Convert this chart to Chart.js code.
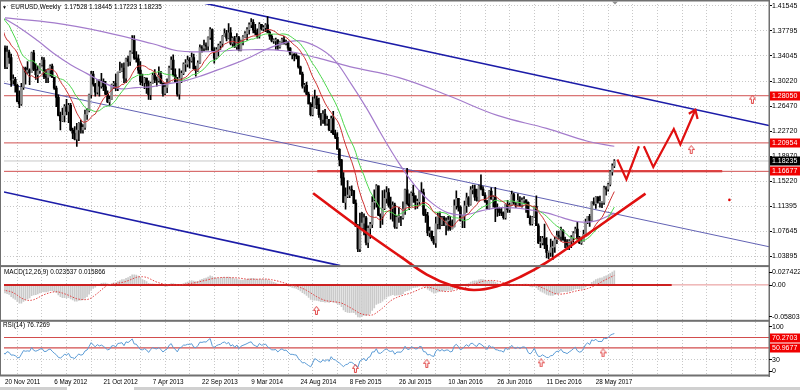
<!DOCTYPE html>
<html>
<head>
<meta charset="utf-8">
<script src="https://cdn.jsdelivr.net/npm/chart.js@4.4.1/dist/chart.umd.min.js"></script>
<style>
  html, body { margin: 0; padding: 0; background: #fff; }
  #wrap { position: relative; width: 800px; height: 390px; overflow: hidden; font-family: "Liberation Sans", Arial, sans-serif; }
  #chart { position: absolute; left: 0; top: 0; }
  .cap { position: absolute; font-size: 6.4px; line-height: 8px; color: #000; white-space: pre; }
</style>
</head>
<body>
<div id="wrap">
  <canvas id="chart" width="800" height="390"></canvas>
  <div class="cap" style="left:2px;top:3px;font-size:5px">&#9660;</div>
  <div class="cap" style="left:11px;top:3px">EURUSD,Weekly  1.17528 1.18445 1.17223 1.18235</div>
  <div class="cap" style="left:4px;top:268px">MACD(12,26,9) 0.023537 0.015866</div>
  <div class="cap" style="left:3px;top:321px">RSI(14) 76.7269</div>
</div>
<script>
// weekly closes before the first visible bar (only feed the indicators)
const preCloses = [1.2910,1.3380,1.3610,1.3610,1.3580,1.3540,1.3700,1.3750,1.3990,1.3900,1.4180,1.4090,1.4230,1.4480,1.4430,1.4580,1.4810,1.4310,1.4120,1.4150,1.4300,1.4640,1.4340,1.4310,1.4180,1.4500,1.4260,1.4150,1.4360,1.4390,1.4280,1.4240,1.4380,1.4490,1.4200,1.3650,1.3790,1.3500,1.3390,1.3370,1.3880,1.3890,1.4140,1.3780,1.3750,1.3520];

// visible weeks, 20 Nov 2011 = week 0
const closes = [
1.3240,1.3460,1.3380,1.3040,1.3050,1.2960,1.2720,1.2680,1.2930,1.3220,
1.3160,1.3190,1.3150,1.3450,1.3200,1.3120,1.3180,1.3270,1.3340,1.3090,
1.3080,1.3190,1.3250,1.3080,1.2920,1.2780,1.2510,1.2430,1.2510,1.2640,
1.2570,1.2660,1.2290,1.2240,1.2150,1.2290,1.2390,1.2290,1.2330,1.2520,
1.2580,1.2820,1.3130,1.2980,1.2860,1.3040,1.2950,1.3020,1.2940,1.2830,
1.2710,1.2750,1.2970,1.2990,1.2920,1.3160,1.3180,1.3220,1.3070,1.3360,
1.3320,1.3460,1.3640,1.3370,1.3360,1.3190,1.3020,1.3000,1.3070,1.2990,
1.2820,1.2990,1.3110,1.3050,1.3030,1.3110,1.2990,1.2840,1.2930,1.3000,
1.3220,1.3340,1.3120,1.3010,1.2830,1.3070,1.3140,1.3280,1.3280,1.3340,
1.3330,1.3380,1.3210,1.3180,1.3300,1.3530,1.3520,1.3560,1.3550,1.3680,
1.3800,1.3490,1.3370,1.3500,1.3560,1.3590,1.3700,1.3740,1.3670,1.3750,
1.3590,1.3670,1.3540,1.3680,1.3490,1.3630,1.3690,1.3740,1.3800,1.3870,
1.3910,1.3790,1.3750,1.3700,1.3880,1.3810,1.3830,1.3870,1.3760,1.3700,
1.3630,1.3630,1.3640,1.3540,1.3610,1.3650,1.3590,1.3600,1.3520,1.3430,
1.3430,1.3410,1.3400,1.3240,1.3130,1.2950,1.2960,1.2830,1.2680,1.2520,
1.2630,1.2760,1.2670,1.2520,1.2450,1.2530,1.2390,1.2450,1.2290,1.2460,
1.2230,1.2180,1.2000,1.1840,1.1570,1.1200,1.1290,1.1310,1.1390,1.1380,
1.1190,1.0840,1.0500,1.0820,1.0890,1.0970,1.0600,1.0810,1.0870,1.1200,
1.1200,1.1450,1.1010,1.0990,1.1110,1.1260,1.1350,1.1160,1.1110,1.1160,
1.0830,1.0980,1.0980,1.0970,1.1100,1.1390,1.1180,1.1150,1.1340,1.1300,
1.1200,1.1210,1.1360,1.1350,1.1020,1.1000,1.0740,1.0770,1.0650,1.0590,
1.0880,1.0990,1.0870,1.0970,1.0860,1.0920,1.0920,1.0800,1.0830,1.1150,
1.1260,1.1130,1.0930,1.1000,1.1150,1.1270,1.1170,1.1390,1.1400,1.1280,
1.1230,1.1450,1.1400,1.1310,1.1220,1.1110,1.1370,1.1250,1.1280,1.1120,
1.1100,1.1050,1.1040,1.0970,1.1170,1.1090,1.1160,1.1320,1.1200,1.1160,
1.1230,1.1160,1.1230,1.1240,1.1200,1.0970,1.0880,1.0980,1.1140,1.0850,
1.0590,1.0590,1.0660,1.0560,1.0450,1.0450,1.0520,1.0530,1.0640,1.0700,
1.0690,1.0780,1.0640,1.0610,1.0560,1.0620,1.0670,1.0740,1.0800,1.0650,
1.0590,1.0610,1.0720,1.0900,1.0990,1.0930,1.1210,1.1180,1.1280,1.1200,
1.1200,1.1200,1.1420,1.1400,1.1470,1.1660,1.1750,1.18235];

const highs = [
1.3557,1.3550,1.3490,1.3430,1.3120,1.3080,1.2980,1.2880,1.2990,1.3235,
1.3235,1.3320,1.3210,1.3460,1.3486,1.3290,1.3250,1.3290,1.3385,1.3380,
1.3200,1.3210,1.3270,1.3280,1.3080,1.2950,1.2820,1.2560,1.2620,1.2670,
1.2750,1.2690,1.2690,1.2320,1.2340,1.2390,1.2400,1.2440,1.2370,1.2590,
1.2610,1.2830,1.3170,1.3170,1.2990,1.3050,1.3020,1.3140,1.3060,1.3020,
1.2880,1.2800,1.2980,1.3020,1.3130,1.3160,1.3310,1.3290,1.3300,1.3370,
1.3400,1.3480,1.3711,1.3710,1.3470,1.3420,1.3320,1.3130,1.3080,1.3050,
1.3030,1.3010,1.3140,1.3200,1.3090,1.3240,1.3170,1.3000,1.2990,1.3060,
1.3250,1.3390,1.3420,1.3210,1.3080,1.3210,1.3180,1.3300,1.3350,1.3400,
1.3380,1.3450,1.3430,1.3250,1.3330,1.3570,1.3560,1.3640,1.3600,1.3690,
1.3830,1.3810,1.3530,1.3530,1.3580,1.3620,1.3710,1.3810,1.3790,1.3890,
1.3830,1.3690,1.3700,1.3740,1.3700,1.3640,1.3710,1.3770,1.3830,1.3900,
1.3966,1.3950,1.3880,1.3810,1.3905,1.3880,1.3860,1.3890,1.3995,1.3780,
1.3730,1.3660,1.3670,1.3650,1.3620,1.3670,1.3700,1.3640,1.3620,1.3530,
1.3450,1.3440,1.3440,1.3400,1.3250,1.3160,1.2990,1.3010,1.2860,1.2700,
1.2790,1.2890,1.2800,1.2770,1.2540,1.2580,1.2600,1.2500,1.2450,1.2500,
1.2570,1.2290,1.2250,1.2010,1.1850,1.1650,1.1420,1.1530,1.1440,1.1450,
1.1380,1.1240,1.0870,1.1040,1.1050,1.1030,1.0990,1.0850,1.0900,1.1290,
1.1390,1.1467,1.1450,1.1030,1.1380,1.1390,1.1440,1.1410,1.1280,1.1210,
1.1190,1.1000,1.1130,1.0990,1.1210,1.1400,1.1714,1.1330,1.1360,1.1460,
1.1290,1.1250,1.1380,1.1500,1.1400,1.1100,1.1050,1.0830,1.0760,1.0690,
1.0980,1.1040,1.1060,1.0990,1.0990,1.0970,1.0990,1.0990,1.0940,1.1240,
1.1376,1.1260,1.1150,1.1000,1.1220,1.1340,1.1290,1.1440,1.1460,1.1460,
1.1400,1.1460,1.1616,1.1440,1.1350,1.1230,1.1380,1.1420,1.1300,1.1427,
1.1180,1.1120,1.1120,1.1060,1.1180,1.1230,1.1190,1.1370,1.1340,1.1200,
1.1330,1.1290,1.1270,1.1290,1.1240,1.1210,1.1000,1.0990,1.1140,1.1300,
1.0880,1.0690,1.0690,1.0874,1.0670,1.0470,1.0650,1.0620,1.0680,1.0770,
1.0770,1.0830,1.0790,1.0680,1.0640,1.0640,1.0700,1.0760,1.0830,1.0900,
1.0690,1.0680,1.0780,1.0950,1.0990,1.1020,1.1210,1.1270,1.1290,1.1290,
1.1296,1.1210,1.1445,1.1440,1.1490,1.1680,1.1780,1.18445];

const lows = [
1.3211,1.3210,1.3290,1.2946,1.2980,1.2858,1.2710,1.2624,1.2660,1.2900,
1.2980,1.3140,1.2973,1.3150,1.3180,1.3052,1.3000,1.3140,1.3250,1.3060,
1.3000,1.3000,1.3100,1.3080,1.2900,1.2640,1.2500,1.2290,1.2420,1.2410,
1.2520,1.2400,1.2280,1.2160,1.2140,1.2042,1.2130,1.2240,1.2240,1.2300,
1.2450,1.2560,1.2770,1.2950,1.2800,1.2830,1.2800,1.2920,1.2880,1.2820,
1.2700,1.2660,1.2750,1.2910,1.2880,1.2880,1.3150,1.3170,1.3000,1.3000,
1.3250,1.3260,1.3440,1.3350,1.3310,1.3140,1.2970,1.2955,1.2910,1.2840,
1.2750,1.2745,1.2990,1.3000,1.2950,1.3010,1.2990,1.2800,1.2820,1.2850,
1.3000,1.3200,1.3100,1.3000,1.2800,1.2755,1.3000,1.3120,1.3170,1.3240,
1.3220,1.3310,1.3200,1.3100,1.3170,1.3290,1.3460,1.3480,1.3490,1.3490,
1.3650,1.3480,1.3295,1.3360,1.3400,1.3500,1.3540,1.3700,1.3630,1.3660,
1.3570,1.3540,1.3530,1.3500,1.3480,1.3480,1.3570,1.3680,1.3640,1.3730,
1.3830,1.3750,1.3720,1.3670,1.3670,1.3790,1.3780,1.3770,1.3750,1.3650,
1.3615,1.3590,1.3500,1.3500,1.3520,1.3580,1.3580,1.3570,1.3480,1.3420,
1.3360,1.3330,1.3360,1.3220,1.3130,1.2920,1.2860,1.2820,1.2680,1.2500,
1.2500,1.2620,1.2610,1.2480,1.2360,1.2390,1.2360,1.2360,1.2280,1.2250,
1.2220,1.2160,1.2000,1.1750,1.1460,1.1200,1.1100,1.1270,1.1270,1.1300,
1.1180,1.0840,1.0460,1.0460,1.0800,1.0710,1.0560,1.0520,1.0660,1.0820,
1.1100,1.1130,1.1000,1.0820,1.0870,1.1090,1.1190,1.1130,1.0950,1.0920,
1.0810,1.0810,1.0900,1.0850,1.0950,1.1020,1.1160,1.1090,1.1150,1.1200,
1.1100,1.1110,1.1170,1.1350,1.1000,1.0900,1.0700,1.0680,1.0620,1.0570,
1.0524,1.0800,1.0800,1.0850,1.0850,1.0710,1.0780,1.0780,1.0810,1.0830,
1.1100,1.1070,1.0920,1.0820,1.0820,1.1050,1.1140,1.1160,1.1330,1.1230,
1.1220,1.1220,1.1390,1.1300,1.1200,1.1100,1.1100,1.1250,1.1130,1.0912,
1.0990,1.1000,1.1000,1.0950,1.0950,1.1050,1.1050,1.1150,1.1170,1.1120,
1.1150,1.1150,1.1130,1.1180,1.1050,1.0970,1.0860,1.0860,1.0970,1.0850,
1.0580,1.0520,1.0560,1.0505,1.0365,1.0350,1.0390,1.0340,1.0450,1.0580,
1.0650,1.0620,1.0630,1.0520,1.0490,1.0490,1.0520,1.0600,1.0740,1.0650,
1.0580,1.0570,1.0610,1.0720,1.0880,1.0840,1.0920,1.1160,1.1110,1.1190,
1.1130,1.1120,1.1170,1.1310,1.1370,1.1450,1.1610,1.17223];

const dateLabels = ['20 Nov 2011','6 May 2012','21 Oct 2012','7 Apr 2013','22 Sep 2013','9 Mar 2014','24 Aug 2014','8 Feb 2015','26 Jul 2015','10 Jan 2016','26 Jun 2016','11 Dec 2016','28 May 2017'];
const priceTicks = [1.03895,1.07645,1.11395,1.15220,1.18970,1.22720,1.26470,1.30220,1.34045,1.37795,1.41545];
const macdTicks = [0.027422, 0, -0.058037];
const macdTickLabels = ['0.027422','0.00','-0.058037'];
const rsiTicks = [100, 30, 0];
const rsiTickLabels = ['100','30','0'];

// slow moving averages
const ma50Weeks = [0,8,16,24,32,40,48,56,64,72,80,88,96,104,112,120,128,136,144,152,160,168,176,184,192,200,208,216,224,232,240,248,256,264,272,280,288,297];
const ma50Prices = [1.3960,1.3810,1.3631,1.3436,1.3272,1.3137,1.3003,1.2913,1.2928,1.2943,1.2988,1.3033,1.3107,1.3197,1.3287,1.3392,1.3511,1.3601,1.3631,1.3541,1.3362,1.3018,1.2629,1.2195,1.1791,1.1447,1.1193,1.1043,1.1013,1.1073,1.1118,1.1118,1.1088,1.1043,1.0968,1.0908,1.0923,1.1040];
const ma200Weeks = [0,24,48,72,84,96,120,136,152,168,192,216,240,264,284,297];
const ma200Prices = [1.3975,1.3900,1.3766,1.3586,1.3481,1.3466,1.3496,1.3481,1.3377,1.3242,1.3077,1.2808,1.2509,1.2314,1.2120,1.2045];

// drawn objects (week, price)
const levelPrices = [1.28050, 1.20954, 1.16677];
const bidPrice = 1.18235;
const supportWeeks = [152.2, 349.6];
const supportPrice = 1.16677;
const rsiLevels = [70.2703, 50.9677];
const chanTopWeeks = [90, 372.4],   chanTopPrices = [1.4244, 1.2357];
const chanMidWeeks = [-0.5, 372.4], chanMidPrices = [1.2993, 1.0534];
const chanLowWeeks = [-0.5, 163.4], chanLowPrices = [1.1357, 1.0250];
const cupWeeks = [150.2,174.1,193.5,205.6,217.7,228.4,239.5,251.6,263.8,280.7,312.2];
const cupPrices = [1.1338,1.0789,1.0370,1.0116,0.9951,0.9884,0.9936,1.0086,1.0295,1.0654,1.1332];
const zigAWeeks = [298.5,302.9,309.0], zigAPrices = [1.1846,1.1547,1.2045];
const zigBWeeks = [311.4,316.0,326.0,329.2,336.5], zigBPrices = [1.2045,1.1731,1.2304,1.2071,1.2594];
const headWeeks = [333.3,336.5,337.6], headPrices = [1.2534,1.2594,1.2454];
const arrowMainWeeks = [364.3, 334.5], arrowMainPrices = [1.2753, 1.1996];
const arrowMacdWeeks = [151.8], arrowMacdValues = [-0.0429];
const arrowRsiWeeks = [170.8, 205.6, 261.3, 291.5], arrowRsiValues = [12.8, 22.1, 23.2, 41.7];
const dotWeeks = [353.1], dotPrices = [1.1238];

const W0 = preCloses.length;
const allCloses = preCloses.concat(closes);
const pts = (ws, vs) => ws.map((w, i) => ({ x: w, y: vs[i] }));

function sma(src, i, n) {
  let s = 0;
  for (let k = i - n + 1; k <= i; k++) s += src[k];
  return s / n;
}

// indicators from the closes
const ma13 = [], ma21 = [];
for (let i = W0 - 1; i < allCloses.length; i++) {
  ma13.push({ x: i - W0, y: sma(allCloses, i, 13) });
  ma21.push({ x: i - W0, y: sma(allCloses, i, 21) });
}

const macdRaw = [];
let e12 = allCloses[0], e26 = allCloses[0];
allCloses.forEach(c => {
  e12 += (c - e12) * 2 / 13;
  e26 += (c - e26) * 2 / 27;
  macdRaw.push(e12 - e26);
});
const macdHist = [], macdSignal = [];
for (let i = W0 - 1; i < allCloses.length; i++) {
  macdHist.push({ x: i - W0, y: macdRaw[i] });
  macdSignal.push({ x: i - W0, y: sma(macdRaw, i, 9) });
}

const rsi = [];
let avgUp = 0, avgDn = 0;
for (let i = 1; i < allCloses.length; i++) {
  const d = allCloses[i] - allCloses[i - 1];
  const up = Math.max(d, 0), dn = Math.max(-d, 0);
  if (i <= 14) { avgUp += up / 14; avgDn += dn / 14; }
  else { avgUp = (avgUp * 13 + up) / 14; avgDn = (avgDn * 13 + dn) / 14; }
  if (i >= W0 - 1) rsi.push({ x: i - W0, y: 100 - 100 / (1 + avgUp / avgDn) });
}

// candles
const opens = closes.map((c, i) => i === 0 ? preCloses[W0 - 1] : closes[i - 1]);
const wicks = closes.map((c, i) => ({ x: i, y: [Math.min(lows[i], opens[i], c), Math.max(highs[i], opens[i], c)] }));
const bodies = closes.map((c, i) => ({ x: i, y: [opens[i], c] }));
const bodyColors = closes.map((c, i) => c >= opens[i] ? '#8c8c8c' : '#000000');

const gridWeeks = Array.from({ length: 32 }, (_, k) => k * 12);

function upArrow() {
  const c = document.createElement('canvas');
  c.width = 7; c.height = 9;
  const g = c.getContext('2d');
  g.strokeStyle = '#e04848';
  g.lineWidth = 1;
  g.beginPath();
  g.moveTo(3.5, 0.5); g.lineTo(6.5, 4.5); g.lineTo(4.5, 4.5); g.lineTo(4.5, 8.5);
  g.lineTo(2.5, 8.5); g.lineTo(2.5, 4.5); g.lineTo(0.5, 4.5); g.closePath();
  g.stroke();
  return c;
}
const arrowImg = upArrow();

function line(data, color, width, order, axis, extra) {
  return Object.assign({
    type: 'line', data, borderColor: color, borderWidth: width, pointRadius: 0,
    fill: false, tension: 0, order, yAxisID: axis
  }, extra || {});
}
const fullSpan = [-1, 373];
const flat = (v) => fullSpan.map(w => ({ x: w, y: v }));

const FONT = { family: '"Liberation Sans", Arial, sans-serif' };

const decor = {
  id: 'decor',
  afterDraw(chart) {
    const ctx = chart.ctx;
    const a = chart.chartArea;
    const yP = chart.scales.y, yM = chart.scales.yMacd, yR = chart.scales.yRsi;
    ctx.save();
    // panel frames
    ctx.fillStyle = '#707070';
    ctx.fillRect(0, 0, a.right, 1.5);
    [yP.bottom, yM.bottom, yR.bottom].forEach(b => ctx.fillRect(0, b - 1.5, a.right, 2));
    ctx.fillRect(a.right - 0.5, 0, 1.5, yR.bottom + 1);
    ctx.fillRect(0, 0, 1, yR.bottom);
    // bottom strip
    ctx.fillStyle = '#d0d0d0';
    ctx.fillRect(0, 387, 800, 3);
    ctx.fillStyle = '#ffffff';
    ctx.fillRect(67, 387, 67, 3);
    // shift marker
    ctx.fillStyle = '#909090';
    ctx.beginPath(); ctx.moveTo(612, 1.5); ctx.lineTo(618, 1.5); ctx.lineTo(615, 4.5); ctx.fill();

    ctx.font = '7px "Liberation Sans", Arial, sans-serif';
    ctx.textAlign = 'left';
    ctx.textBaseline = 'middle';
    const sideLabels = (scale, values, labels) => {
      values.forEach((v, i) => {
        const py = Math.min(Math.max(scale.getPixelForValue(v), scale.top + 5), scale.bottom - 5);
        ctx.fillStyle = '#000';
        ctx.fillRect(a.right, Math.round(py), 3, 1);
        ctx.fillText(labels[i], a.right + 3, py + 0.5);
      });
    };
    sideLabels(yM, macdTicks, macdTickLabels);
    sideLabels(yR, rsiTicks, rsiTickLabels);

    const tag = (scale, v, text, bg) => {
      const py = Math.round(scale.getPixelForValue(v));
      ctx.fillStyle = bg;
      ctx.fillRect(a.right + 1, py - 4.5, 800 - a.right, 9);
      ctx.fillStyle = '#fff';
      ctx.fillText(text, a.right + 3, py + 0.5);
    };
    levelPrices.forEach(v => tag(yP, v, v.toFixed(5), '#f00000'));
    tag(yP, bidPrice, bidPrice.toFixed(5), '#000000');
    rsiLevels.forEach(v => tag(yR, v, v.toFixed(4), '#f00000'));
    ctx.restore();
  }
};

const sideAxis = (weight, min, max) => ({
  type: 'linear', position: 'right', stack: 'panes', stackWeight: weight, min, max,
  afterFit: ax => { ax.width = 31; ax.paddingTop = 0; ax.paddingBottom = 0; }
});

new Chart(document.getElementById('chart'), {
  type: 'line',
  data: {
    datasets: [
      // hand drawn pattern
      line(pts(cupWeeks, cupPrices), '#e01010', 2.6, 0, 'y', { tension: 0.4, clip: false }),
      line(pts(zigAWeeks, zigAPrices), '#e01010', 2.2, 0, 'y'),
      line(pts(zigBWeeks, zigBPrices), '#e01010', 2.2, 0, 'y'),
      line(pts(headWeeks, headPrices), '#e01010', 2.2, 0, 'y'),
      // arrows and marks
      line(pts(arrowMainWeeks, arrowMainPrices), '#e04848', 0, 1, 'y', { showLine: false, pointRadius: 4, pointStyle: arrowImg }),
      line(pts(arrowMacdWeeks, arrowMacdValues), '#e04848', 0, 1, 'yMacd', { showLine: false, pointRadius: 4, pointStyle: arrowImg }),
      line(pts(arrowRsiWeeks, arrowRsiValues), '#e04848', 0, 1, 'yRsi', { showLine: false, pointRadius: 4, pointStyle: arrowImg }),
      line(pts(dotWeeks, dotPrices), '#e00000', 0, 1, 'y', { showLine: false, pointRadius: 1.3, pointBackgroundColor: '#e00000', pointBorderWidth: 0 }),
      // moving averages
      line(ma13, '#cc3333', 1, 2, 'y'),
      line(ma21, '#4cd64c', 1, 2, 'y'),
      line(pts(ma50Weeks, ma50Prices), '#a47ccc', 1.2, 2, 'y', { tension: 0.4 }),
      line(pts(ma200Weeks, ma200Prices), '#a47ccc', 1.2, 2, 'y', { tension: 0.4 }),
      // candles
      { type: 'bar', data: bodies, backgroundColor: bodyColors, barThickness: 2, minBarLength: 1, grouped: false, order: 3, yAxisID: 'y' },
      { type: 'bar', data: wicks, backgroundColor: '#000', barThickness: 1, grouped: false, order: 4, yAxisID: 'y' },
      // channel
      line(pts(chanTopWeeks, chanTopPrices), '#1c1ca8', 1.6, 5, 'y'),
      line(pts(chanMidWeeks, chanMidPrices), '#6262b4', 1, 5, 'y'),
      line(pts(chanLowWeeks, chanLowPrices), '#1c1ca8', 1.6, 5, 'y'),
      // horizontal levels
      line(flat(bidPrice), '#c8c8c8', 1, 6, 'y'),
      ...levelPrices.map(v => line(flat(v), '#d05050', 1, 6, 'y')),
      line(pts(supportWeeks, [supportPrice, supportPrice]), '#e00000', 2, 6, 'y'),
      // MACD
      line(macdSignal, '#e04040', 1, 2, 'yMacd', { borderDash: [1.5, 1.5] }),
      line(pts([-1, 325], [0, 0]), '#cc2020', 2, 6, 'yMacd'),
      line(pts([325, 373], [0, 0]), '#e69090', 1, 6, 'yMacd'),
      { type: 'bar', data: macdHist, backgroundColor: '#cacaca', barThickness: 1, grouped: false, order: 7, yAxisID: 'yMacd' },
      // RSI
      line(rsi, '#5b9bd5', 1, 2, 'yRsi'),
      ...rsiLevels.map(v => line(flat(v), '#d24d4d', 1.2, 6, 'yRsi'))
    ]
  },
  options: {
    responsive: false,
    animation: false,
    layout: { padding: { top: 2, left: 0, right: 0, bottom: 0 } },
    plugins: { legend: { display: false }, tooltip: { enabled: false } },
    scales: {
      x: {
        type: 'linear', min: -0.485, max: 372.4, offset: false,
        afterBuildTicks: ax => { ax.ticks = gridWeeks.map(v => ({ value: v })); },
        afterFit: ax => { ax.height = 14; ax.paddingLeft = 0; ax.paddingRight = 0; },
        grid: { color: '#c8c8c8', lineWidth: 1, drawTicks: false, tickLength: 0 },
        border: { display: false, dash: [1, 2] },
        ticks: {
          autoSkip: false, maxRotation: 0, minRotation: 0, align: 'start', padding: 2, color: '#000',
          font: Object.assign({ size: 6.3 }, FONT),
          callback: v => (v % 24 === 0 && v / 24 < dateLabels.length) ? dateLabels[v / 24] : ''
        }
      },
      y: Object.assign(sideAxis(264, 1.02353, 1.41844), {
        afterBuildTicks: ax => { ax.ticks = priceTicks.map(v => ({ value: v })); },
        grid: { color: '#c8c8c8', lineWidth: 1, drawTicks: true, tickLength: 3, tickColor: '#000' },
        border: { display: false, dash: [1, 2] },
        ticks: { padding: 0, color: '#000', font: Object.assign({ size: 7 }, FONT), callback: v => v.toFixed(5) }
      }),
      yMacd: Object.assign(sideAxis(55, -0.0613, 0.0308), {
        grid: { display: false }, border: { display: false }, ticks: { display: false }
      }),
      yRsi: Object.assign(sideAxis(55, -1.5, 100.5), {
        afterBuildTicks: ax => { ax.ticks = [{ value: 30 }]; },
        grid: { color: '#c8c8c8', drawTicks: false, tickLength: 0 },
        border: { display: false, dash: [1, 2] },
        ticks: { display: false }
      })
    }
  },
  plugins: [decor]
});
</script>
</body>
</html>
